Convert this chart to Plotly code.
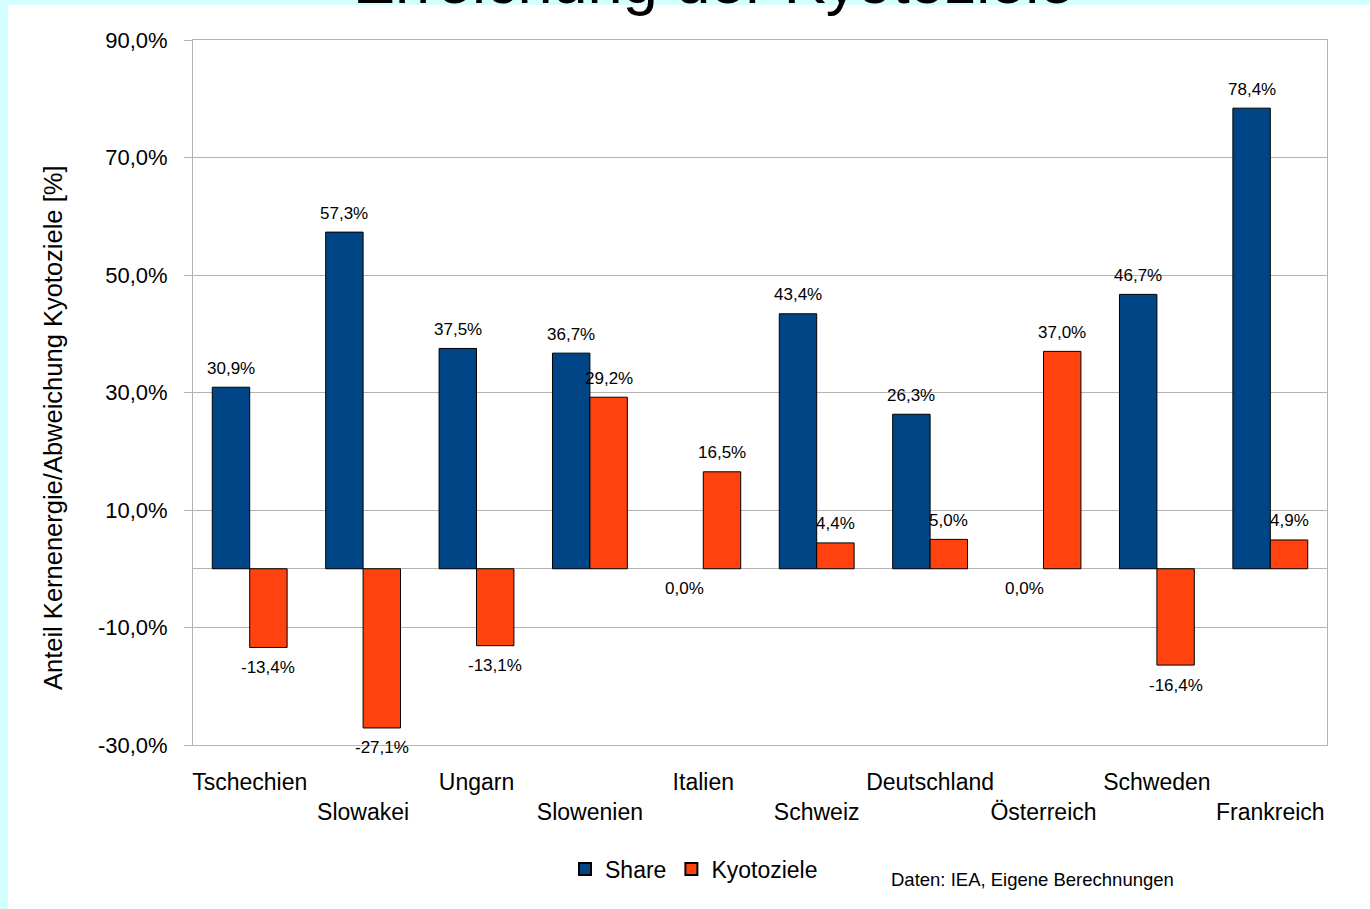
import plotly.graph_objects as go

categories = ["Tschechien", "Slowakei", "Ungarn", "Slowenien", "Italien",
              "Schweiz", "Deutschland", "Österreich", "Schweden", "Frankreich"]
share = [30.9, 57.3, 37.5, 36.7, 0.0, 43.4, 26.3, 0.0, 46.7, 78.4]
kyoto = [-13.4, -27.1, -13.1, 29.2, 16.5, 4.4, 5.0, 37.0, -16.4, 4.9]
tick_vals = [-30, -10, 10, 30, 50, 70, 90]

BLUE = "#004586"
ORANGE = "#FF420E"
CYAN = "#D4FFFF"
GRID = "#B3B3B3"
FONT = "Liberation Sans, Arial, sans-serif"

W, H = 1370, 909
L, R, T, B = 193, 43, 40, 164
PW, PH = W - L - R, H - T - B


def px(x):
    return (x - L) / PW


def py(y):
    return 1 - (y - T) / PH


def fmt(v):
    return f"{v:.1f}%".replace(".", ",")


ticktext = [c if i % 2 == 0 else "<br>" + c for i, c in enumerate(categories)]

fig = go.Figure()
fig.add_trace(go.Bar(name="Share", x=categories, y=share,
                     marker=dict(color=BLUE,
                                 line=dict(color="black", width=[0 if v == 0 else 1 for v in share]))))
fig.add_trace(go.Bar(name="Kyotoziele", x=categories, y=kyoto,
                     marker=dict(color=ORANGE,
                                 line=dict(color="black", width=[0 if v == 0 else 1 for v in kyoto]))))

annotations = []
bar_off = PW / len(categories) * (1 - 0.34) / 4
for vals, sh in ((share, -bar_off), (kyoto, bar_off)):
    for c, v in zip(categories, vals):
        annotations.append(dict(
            x=c, y=v, xref="x", yref="y", text=fmt(v), showarrow=False,
            xshift=sh, yshift=19 if v > 0 else -20, yanchor="middle",
            font=dict(size=17, color="black", family=FONT)))

# title (mostly outside the visible page)
annotations.append(dict(text="Erreichung der Kyotoziele", x=px(713.5), y=1 + (T + 19.5) / PH,
                        xref="paper", yref="paper", showarrow=False,
                        xanchor="center", yanchor="middle",
                        font=dict(size=63, color="black", family=FONT)))
# y-axis title
annotations.append(dict(text="Anteil Kernenergie/Abweichung Kyotoziele [%]",
                        x=px(53), y=py(428), xref="paper", yref="paper",
                        showarrow=False, textangle=-90, xanchor="center", yanchor="middle",
                        font=dict(size=25.5, color="black", family=FONT)))
# source
annotations.append(dict(text="Daten: IEA, Eigene Berechnungen", x=px(1032.5), y=py(879),
                        xref="paper", yref="paper", showarrow=False,
                        xanchor="center", yanchor="middle",
                        font=dict(size=18.5, color="black", family=FONT)))

fig.update_layout(
    width=W, height=H, autosize=False,
    margin=dict(l=L, r=R, t=T, b=B, pad=0),
    paper_bgcolor=CYAN, plot_bgcolor="white",
    separators=",.",
    barmode="group", bargap=0.34, bargroupgap=0,
    font=dict(family=FONT, color="black"),
    showlegend=True,
    legend=dict(orientation="h", x=px(694), y=py(869), xanchor="center", yanchor="middle",
                font=dict(size=23, color="black", family=FONT), bgcolor="rgba(0,0,0,0)",
                itemsizing="constant"),
    annotations=annotations,
    shapes=[dict(type="rect", xref="paper", yref="paper",
                 x0=px(8), x1=px(1375), y0=py(915), y1=py(5),
                 fillcolor="white", line=dict(width=0), layer="below")],
)
fig.update_xaxes(
    tickmode="array", tickvals=categories, ticktext=ticktext, tickangle=0,
    tickfont=dict(size=23, color="black", family=FONT), ticks="",
    showline=True, mirror=True, linecolor=GRID, linewidth=1,
    showgrid=False, ticklabelstandoff=16,
)
fig.update_yaxes(
    range=[-30, 90], tickmode="array", tickvals=tick_vals,
    ticktext=[fmt(v) for v in tick_vals],
    tickfont=dict(size=22, color="black", family=FONT),
    ticks="outside", ticklen=8, tickcolor=GRID,
    showgrid=True, gridcolor=GRID, gridwidth=1,
    zeroline=True, zerolinecolor=GRID, zerolinewidth=1,
    showline=True, mirror=True, linecolor=GRID, linewidth=1,
    ticklabelstandoff=12,
)

fig.write_html("out.html", config={"displayModeBar": False},
               post_script="document.body.style.margin='0';")
